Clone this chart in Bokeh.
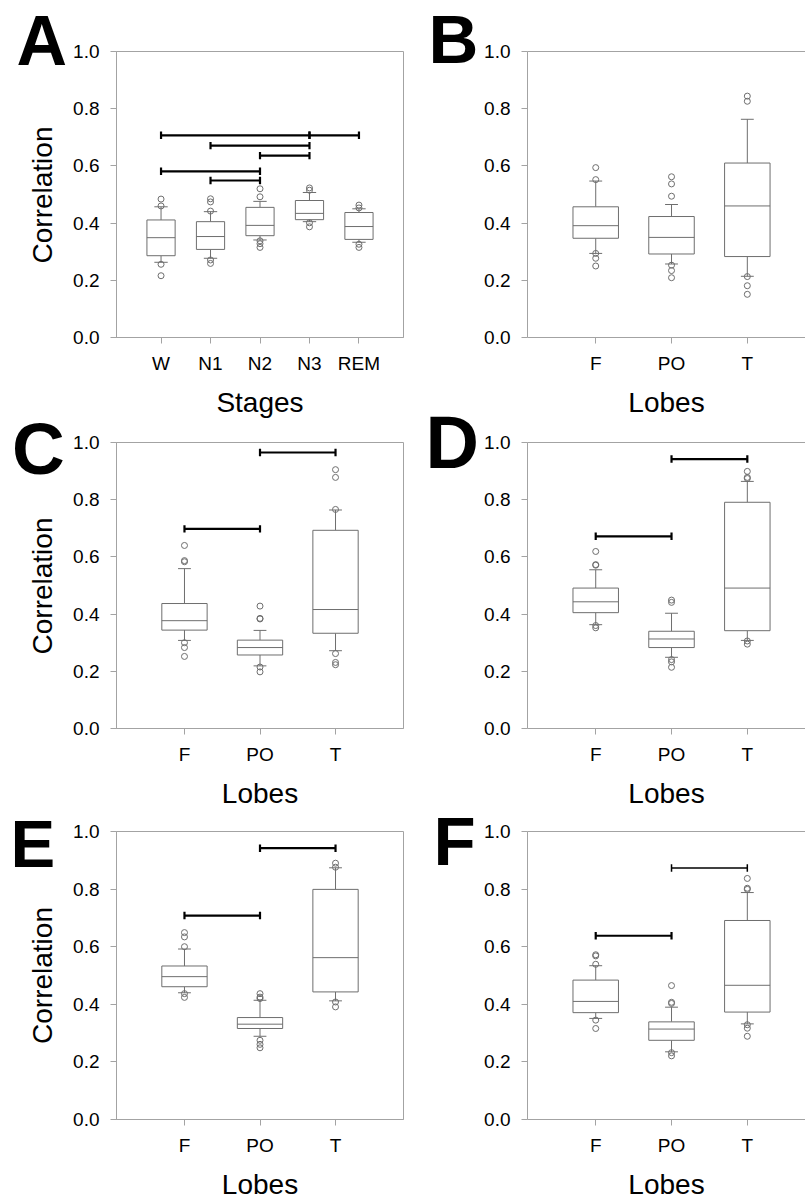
import math
from bokeh.plotting import figure
from bokeh.layouts import row, column
from bokeh.models import FixedTicker, PrintfTickFormatter, Label, LinearAxis, Range1d
from bokeh.embed import file_html
from bokeh.resources import INLINE

# ---------------- data ----------------
STAGES = ["W", "N1", "N2", "N3", "REM"]
LOBES = ["F", "PO", "T"]

A_q1 = [0.286, 0.308, 0.356, 0.412, 0.343]
A_med = [0.349, 0.353, 0.392, 0.434, 0.388]
A_q3 = [0.411, 0.405, 0.455, 0.479, 0.437]
A_lo = [0.263, 0.277, 0.341, 0.405, 0.333]
A_hi = [0.457, 0.440, 0.476, 0.507, 0.450]
A_out = [[0.484, 0.460, 0.256, 0.216],
         [0.485, 0.474, 0.442, 0.271, 0.259],
         [0.520, 0.492, 0.338, 0.328, 0.315],
         [0.523, 0.515, 0.401, 0.387],
         [0.463, 0.453, 0.326, 0.315]]
A_sig = [("W", "N3", 0.707), ("N3", "REM", 0.707), ("N1", "N3", 0.671),
         ("N2", "N3", 0.636), ("W", "N2", 0.581), ("N1", "N2", 0.549)]

B_q1 = [0.347, 0.292, 0.283]
B_med = [0.391, 0.350, 0.460]
B_q3 = [0.457, 0.423, 0.610]
B_lo = [0.294, 0.257, 0.214]
B_hi = [0.547, 0.465, 0.763]
B_out = [[0.594, 0.552, 0.294, 0.277, 0.250],
         [0.562, 0.537, 0.494, 0.253, 0.234, 0.209],
         [0.844, 0.826, 0.213, 0.181, 0.151]]
B_sig = []

C_q1 = [0.344, 0.257, 0.333]
C_med = [0.377, 0.283, 0.416]
C_q3 = [0.437, 0.309, 0.693]
C_lo = [0.308, 0.219, 0.272]
C_hi = [0.559, 0.343, 0.764]
C_out = [[0.640, 0.587, 0.583, 0.300, 0.283, 0.252],
         [0.428, 0.385, 0.383, 0.215, 0.198],
         [0.905, 0.878, 0.766, 0.262, 0.231, 0.223]]
C_sig = [("F", "PO", 0.698), ("PO", "T", 0.965)]

D_q1 = [0.405, 0.283, 0.342]
D_med = [0.443, 0.313, 0.491]
D_q3 = [0.491, 0.340, 0.791]
D_lo = [0.363, 0.249, 0.308]
D_hi = [0.555, 0.403, 0.864]
D_out = [[0.619, 0.573, 0.571, 0.360, 0.352],
         [0.449, 0.441, 0.241, 0.233, 0.214],
         [0.899, 0.878, 0.874, 0.306, 0.295]]
D_sig = [("F", "PO", 0.672), ("PO", "T", 0.942)]

E_q1 = [0.461, 0.316, 0.443]
E_med = [0.496, 0.331, 0.562]
E_q3 = [0.533, 0.354, 0.799]
E_lo = [0.440, 0.289, 0.412]
E_hi = [0.592, 0.414, 0.874]
E_out = [[0.649, 0.634, 0.600, 0.437, 0.424],
         [0.437, 0.425, 0.420, 0.275, 0.261, 0.249],
         [0.890, 0.876, 0.408, 0.391]]
E_sig = [("F", "PO", 0.708), ("PO", "T", 0.942)]

F_q1 = [0.371, 0.275, 0.373]
F_med = [0.410, 0.314, 0.466]
F_q3 = [0.484, 0.339, 0.691]
F_lo = [0.351, 0.235, 0.332]
F_hi = [0.534, 0.390, 0.788]
F_out = [[0.572, 0.568, 0.539, 0.345, 0.316],
         [0.465, 0.407, 0.403, 0.232, 0.221],
         [0.837, 0.803, 0.799, 0.329, 0.317, 0.289]]
F_sig = [("F", "PO", 0.638), ("PO", "T", 0.873)]

Y_TICKS = [0.0, 0.2, 0.4, 0.6, 0.8, 1.0]

# ---------------- styles ----------------
FONT = "Liberation Sans"
AXIS_GRAY = "#a3a3a3"
BOX_GRAY = "#6e6e6e"
TICK_FS = "19px"
TITLE_PX = 28
TITLE_FS = f"{TITLE_PX}px"
BASELINE_SHIFT = 0.38   # em offset between requested and drawn baseline of a Label

# ---------------- layout geometry (pixels) ----------------
PAGE_H = 1203
STRIP_L_W, LEFT_W, STRIP_R_W, RIGHT_W = 70, 335, 75, 325
LEFT_X0 = STRIP_L_W
STRIP_R_X0 = LEFT_X0 + LEFT_W
RIGHT_X0 = STRIP_R_X0 + STRIP_R_W
PX_PER_CAT = 75.8


class Geo:
    def __init__(self, x0, y0, w, h, bl, br, bt, bb, xs, xe):
        self.x0, self.y0, self.w, self.h = x0, y0, w, h
        self.bl, self.br, self.bt, self.bb = bl, br, bt, bb
        self.xs, self.xe = xs, xe
        self.fw = w - bl - br
        self.fh = h - bt - bb

    @property
    def frame_mid_y(self):
        return self.y0 + self.bt + self.fh / 2


right_end = 0.1 + (RIGHT_W - 47 - 0) / PX_PER_CAT

gA = Geo(LEFT_X0, 0, LEFT_W, 420, 45, 2, 51, 82, 0.1, 5.9)
gC = Geo(LEFT_X0, 420, LEFT_W, 391, 45, 2, 22, 82, 0.1, 3.9)
gE = Geo(LEFT_X0, 811, LEFT_W, 392, 45, 2, 20, 84, 0.1, 3.9)
gB = Geo(RIGHT_X0, 0, RIGHT_W, 420, 47, 0, 51, 82, 0.1, right_end)
gD = Geo(RIGHT_X0, 420, RIGHT_W, 391, 47, 0, 22, 82, 0.1, right_end)
gF = Geo(RIGHT_X0, 811, RIGHT_W, 392, 47, 0, 20, 84, 0.1, right_end)


def make_panel(g, cats, q1, med, q3, lo, hi, outs, sig, xlabel,
               box_w, cap_w, right_col, sig_widths=None):
    p = figure(width=g.w, height=g.h, output_backend="svg", toolbar_location=None,
               x_range=Range1d(g.xs, g.xe), y_range=Range1d(0, 1),
               min_border_left=g.bl, min_border_right=g.br,
               min_border_top=g.bt, min_border_bottom=g.bb)
    p.xgrid.grid_line_color = None
    p.ygrid.grid_line_color = None

    xs = list(range(1, len(cats) + 1))
    pos = {c: i + 1 for i, c in enumerate(cats)}

    # whiskers and caps
    p.segment(x0=xs, y0=q3, x1=xs, y1=hi, line_color=BOX_GRAY, line_width=1)
    p.segment(x0=xs, y0=q1, x1=xs, y1=lo, line_color=BOX_GRAY, line_width=1)
    p.segment(x0=[x - cap_w / 2 for x in xs], y0=hi, x1=[x + cap_w / 2 for x in xs], y1=hi,
              line_color=BOX_GRAY, line_width=1)
    p.segment(x0=[x - cap_w / 2 for x in xs], y0=lo, x1=[x + cap_w / 2 for x in xs], y1=lo,
              line_color=BOX_GRAY, line_width=1)
    # boxes and medians
    p.vbar(x=xs, width=box_w, bottom=q1, top=q3, fill_color="white",
           line_color=BOX_GRAY, line_width=1)
    p.segment(x0=[x - box_w / 2 for x in xs], y0=med, x1=[x + box_w / 2 for x in xs], y1=med,
              line_color=BOX_GRAY, line_width=1)
    # outliers
    ox, oy = [], []
    for x, vals in zip(xs, outs):
        for v in vals:
            ox.append(x)
            oy.append(v)
    p.scatter(x=ox, y=oy, marker="circle", size=6, fill_color=None,
              line_color=BOX_GRAY, line_width=1)
    # significance bars
    if sig_widths is None:
        sig_widths = [2.2] * len(sig)
    for (a, b, y), lw in zip(sig, sig_widths):
        p.segment(x0=[pos[a]], y0=[y], x1=[pos[b]], y1=[y], line_color="black", line_width=lw)
        p.segment(x0=[pos[a], pos[b]], y0=[y - 0.013, y - 0.013],
                  x1=[pos[a], pos[b]], y1=[y + 0.013, y + 0.013],
                  line_color="black", line_width=lw)

    # axes
    p.xaxis.ticker = FixedTicker(ticks=xs)
    p.xaxis.major_label_overrides = {x: c for x, c in zip(xs, cats)}
    p.yaxis.ticker = FixedTicker(ticks=Y_TICKS)
    p.yaxis.formatter = PrintfTickFormatter(format="%.1f")
    for ax in (p.xaxis[0], p.yaxis[0]):
        ax.axis_line_color = AXIS_GRAY
        ax.major_tick_line_color = AXIS_GRAY
        ax.minor_tick_line_color = None
        ax.major_tick_in = 0
        ax.major_tick_out = 6
        ax.major_label_text_font = FONT
        ax.major_label_text_font_size = TICK_FS
        ax.major_label_text_color = "black"
        ax.axis_label_text_font = FONT
        ax.axis_label_text_font_size = TITLE_FS
        ax.axis_label_text_font_style = "normal"
        ax.axis_label_text_color = "black"
    p.xaxis.major_label_standoff = 9
    p.xaxis.axis_label = xlabel
    p.xaxis.axis_label_standoff = 10
    p.yaxis.major_label_standoff = 11

    if right_col:
        p.outline_line_color = None
        top = LinearAxis(ticker=FixedTicker(ticks=[]), major_label_text_font_size="0px",
                         major_tick_out=0, major_tick_in=0, minor_tick_out=0, minor_tick_in=0,
                         major_label_standoff=0, axis_line_color=AXIS_GRAY)
        p.add_layout(top, "above")
    else:
        p.outline_line_color = AXIS_GRAY
        p.outline_line_width = 1
    return p


def make_strip(w):
    """narrow full-height canvas holding the panel letters and y-axis titles;
    its data space is the page pixel grid of the strip"""
    s = figure(width=w, height=PAGE_H, output_backend="svg", toolbar_location=None,
               x_range=Range1d(0, w), y_range=Range1d(PAGE_H, 0),
               x_axis_type=None, y_axis_type=None, min_border=0,
               min_border_left=0, min_border_right=0, min_border_top=0, min_border_bottom=0)
    s.xgrid.grid_line_color = None
    s.ygrid.grid_line_color = None
    s.outline_line_color = None
    return s


def letter(s, x0, px, py, text, size_px):
    s.add_layout(Label(x=px - x0, y=py - BASELINE_SHIFT * size_px, text=text, text_font=FONT,
                       text_font_size=f"{size_px}px", text_font_style="bold", text_color="black",
                       text_align="left", text_baseline="alphabetic"))


def ytitle(s, x0, px, py, text):
    s.add_layout(Label(x=px - x0 - BASELINE_SHIFT * TITLE_PX, y=py, text=text, text_font=FONT,
                       text_font_size=TITLE_FS, text_color="black", angle=math.pi / 2,
                       text_align="center", text_baseline="alphabetic"))


pA = make_panel(gA, STAGES, A_q1, A_med, A_q3, A_lo, A_hi, A_out, A_sig, "Stages", 0.57, 0.27, False)
pC = make_panel(gC, LOBES, C_q1, C_med, C_q3, C_lo, C_hi, C_out, C_sig, "Lobes", 0.6, 0.17, False)
pE = make_panel(gE, LOBES, E_q1, E_med, E_q3, E_lo, E_hi, E_out, E_sig, "Lobes", 0.6, 0.17, False)
pB = make_panel(gB, LOBES, B_q1, B_med, B_q3, B_lo, B_hi, B_out, B_sig, "Lobes", 0.6, 0.17, True)
pD = make_panel(gD, LOBES, D_q1, D_med, D_q3, D_lo, D_hi, D_out, D_sig, "Lobes", 0.6, 0.17, True)
pF = make_panel(gF, LOBES, F_q1, F_med, F_q3, F_lo, F_hi, F_out, F_sig, "Lobes", 0.6, 0.17, True,
                sig_widths=[2.2, 1.5])

sL = make_strip(STRIP_L_W)
sR = make_strip(STRIP_R_W)

# panel letters (page pixel position of glyph origin / baseline)
letter(sL, 0, 16, 67, "A", 70)
letter(sL, 0, 11.5, 476, "C", 73)
letter(sL, 0, 10, 868, "E", 67)
letter(sR, STRIP_R_X0, 428, 65.5, "B", 69)
letter(sR, STRIP_R_X0, 425, 470, "D", 74)
letter(sR, STRIP_R_X0, 433, 867, "F", 69)

# y-axis titles of the left panels (baseline x, centred on each frame)
for g in (gA, gC, gE):
    ytitle(sL, 0, 53, g.frame_mid_y, "Correlation")

layout = row(sL, column(pA, pC, pE), sR, column(pB, pD, pF))

with open("out.html", "w") as f:
    f.write(file_html(layout, INLINE))
